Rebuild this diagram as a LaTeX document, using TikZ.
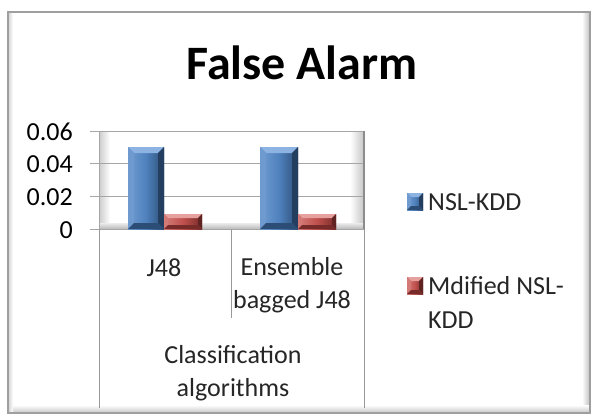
\documentclass[tikz,border=0pt]{standalone}
\usepackage{fontspec}
\setmainfont{Carlito}
\usetikzlibrary{calc}
\definecolor{barblue}{HTML}{4F81BD}
\definecolor{bluedark}{HTML}{2C4D75}
\definecolor{bluelight}{HTML}{8DB3E2}
\definecolor{barred}{HTML}{C0504D}
\definecolor{reddark}{HTML}{772C2A}
\definecolor{redlight}{HTML}{E6A19F}
\definecolor{gridgray}{HTML}{A6A6A6}
\tikzset{
  gridline/.style={draw=gridgray, line width=0.9pt},
  catline/.style={draw=gray!80, line width=0.8pt},
  ticklabel/.style={font=\fontsize{26}{28}\selectfont, anchor=base east, inner sep=0pt},
  catlabel/.style={font=\fontsize{26}{28}\selectfont, anchor=base, inner sep=0pt, text=black!85},
  legendlabel/.style={font=\fontsize{26}{28}\selectfont, anchor=base west, inner sep=0pt, text=black!85},
  titlelabel/.style={font=\fontsize{48}{50}\selectfont\bfseries, anchor=base, inner sep=0pt}
}
% bevelled bar: x1, x2, ytop, ybot, base, light, dark, bevel
\newcommand\bevbar[8]{%
  \shade[left color=#6!55!#5, right color=#7, middle color=#5] (#1,#3) rectangle (#2,#4);
  \fill[#6] (#1,#3) -- (#2,#3) -- ($(#2,#3)+(-#8,#8)$) -- ($(#1,#3)+(#8,#8)$) -- cycle;
  \fill[#6!50!#5] (#1,#3) -- ($(#1,#3)+(#8,#8)$) -- ($(#1,#4)+(#8,-#8)$) -- (#1,#4) -- cycle;
  \fill[#7!80!black] (#2,#3) -- ($(#2,#3)+(-#8,#8)$) -- ($(#2,#4)+(-#8,-#8)$) -- (#2,#4) -- cycle;
  \fill[#7] (#1,#4) -- ($(#1,#4)+(#8,-#8)$) -- ($(#2,#4)+(-#8,-#8)$) -- (#2,#4) -- cycle;
}
\begin{document}
\begin{tikzpicture}[x=1pt,y=-1pt]
\useasboundingbox (0,0) rectangle (593,417);
\fill[white] (0,0) rectangle (593,417);
% frame with shadow
\shade[left color=white, right color=gray!50] (582,12) rectangle (590,413);
\shade[top color=white, bottom color=gray!45] (8,405) rectangle (590,413);
\shade[left color=gray!35, right color=white] (8,12) rectangle (13,413);
\draw[gray!75, line width=1.6pt] (8,12) rectangle (590,413);
% title
\node[titlelabel] (title) at (302,80) {False Alarm};
% plot walls
\shade[left color=gray!40, right color=white] (99,131) rectangle (110,226);
\shade[left color=white, right color=gray!45] (350,131) rectangle (364,226);
\shade[top color=gray!15, bottom color=gray!55] (99,223) -- (364,223) -- (364,229) -- (99,229) -- cycle;
% gridlines
\draw[gridline] (90,131) -- (364,131);
\draw[gridline] (90,163) -- (364,163);
\draw[gridline] (90,196) -- (364,196);
\draw[gridline] (90,229) -- (364,229);
\draw[gridline] (99,131) -- (99,229);
\draw[draw=gray!90, line width=1.2pt] (364,131) -- (364,229);
% bars
\bevbar{128}{164}{147}{229}{barblue}{bluelight}{bluedark}{6}
\bevbar{164}{202}{214}{229}{barred}{redlight}{reddark}{4}
\bevbar{260}{298}{147}{229}{barblue}{bluelight}{bluedark}{6}
\bevbar{298}{336}{214}{229}{barred}{redlight}{reddark}{4}
% tick labels
\node[ticklabel] (t6) at (73,140) {0.06};
\node[ticklabel] (t4) at (73,172) {0.04};
\node[ticklabel] (t2) at (73,205) {0.02};
\node[ticklabel] (t0) at (73,238) {0};
% category lines
\draw[catline] (99,229) -- (99,408);
\draw[catline] (231,229) -- (231,318);
\draw[catline] (364,229) -- (364,408);
% category labels
\node[catlabel] (c1) at (164,276) {J48};
\node[catlabel] (c2a) at (292,275) {Ensemble};
\node[catlabel] (c2b) at (292,308) {bagged J48};
\node[catlabel] (g1) at (233,363) {Classification};
\node[catlabel] (g2) at (233,396) {algorithms};
% legend
\bevbar{407}{423}{193}{210}{barblue}{bluelight}{bluedark}{4}
\bevbar{407}{423}{277}{294}{barred}{redlight}{reddark}{4}
\node[legendlabel] (l1) at (428,210) {NSL-KDD};
\node[legendlabel] (l2) at (428,294) {Mdified NSL-};
\node[legendlabel] (l3) at (428,328) {KDD};
\end{tikzpicture}
\end{document}
